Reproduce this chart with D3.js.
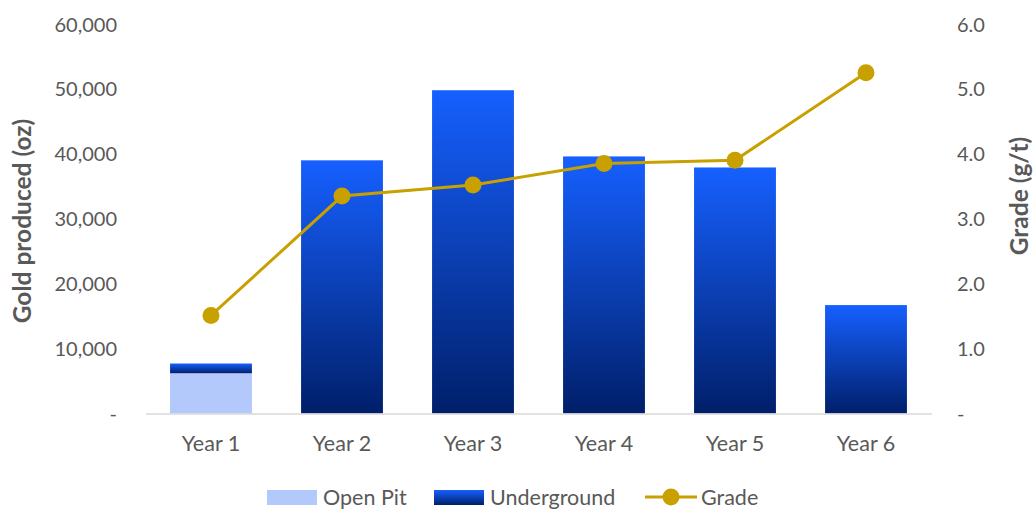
<!DOCTYPE html>
<html>
<head>
<meta charset="utf-8">
<script src="https://cdn.jsdelivr.net/npm/d3@7"></script>
<style>
  body { margin: 0; background: #fff; }
  text { font-family: Lato, sans-serif; fill: #595959; }
</style>
</head>
<body>
<script>
// chart data
const years = ['Year 1', 'Year 2', 'Year 3', 'Year 4', 'Year 5', 'Year 6'];
const openPit = [6200, 0, 0, 0, 0, 0];
const underground = [1500, 39000, 49800, 39600, 37900, 16700];
const grade = [1.51, 3.35, 3.52, 3.85, 3.90, 5.25];
const leftTicks = [0, 10000, 20000, 30000, 40000, 50000, 60000];
const rightTicks = [0, 1, 2, 3, 4, 5, 6];

const width = 1034;
const height = 509;
const tickSize = 20;
const labelSize = 21.5;

const svg = d3.select('body')
  .append('svg')
  .attr('width', width)
  .attr('height', height);

// gradient for underground bars, drawn per bar
const grad = svg.append('defs')
  .append('linearGradient')
  .attr('id', 'ugGrad')
  .attr('x1', 0).attr('y1', 0)
  .attr('x2', 0).attr('y2', 1);
grad.append('stop').attr('offset', '0%').attr('stop-color', '#1660ff');
grad.append('stop').attr('offset', '100%').attr('stop-color', '#001f6a');

const x = d3.scaleBand()
  .domain(years)
  .range([145.5, 931.5])
  .paddingInner(0.375)
  .paddingOuter(0.1875);

const yLeft = d3.scaleLinear().domain([0, 60000]).range([413.5, 24]);
const yRight = d3.scaleLinear().domain([0, 6]).range([413.5, 24]);

const fmtLeft = d => d === 0 ? '-' : d3.format(',')(d);
const fmtRight = d => d === 0 ? '-' : d3.format('.1f')(d);

const styleText = (sel, size) => sel
  .attr('font-size', size)
  .style('font-family', 'Lato, sans-serif')
  .attr('fill', '#595959');

// left axis
const leftAxis = svg.append('g')
  .attr('transform', 'translate(117,0)')
  .call(d3.axisLeft(yLeft).tickValues(leftTicks).tickFormat(fmtLeft).tickSize(0).tickPadding(0));
leftAxis.select('.domain').remove();
leftAxis.selectAll('text').attr('dy', '0.35em').call(styleText, tickSize);

// right axis
const rightAxis = svg.append('g')
  .attr('transform', 'translate(957,0)')
  .call(d3.axisRight(yRight).tickValues(rightTicks).tickFormat(fmtRight).tickSize(0).tickPadding(0));
rightAxis.select('.domain').remove();
rightAxis.selectAll('text').attr('dy', '0.35em').call(styleText, tickSize);

// bars
const bars = svg.append('g');
bars.selectAll('rect.op')
  .data(years)
  .join('rect')
  .attr('class', 'op')
  .attr('x', d => x(d))
  .attr('width', x.bandwidth())
  .attr('y', (d, i) => yLeft(openPit[i]))
  .attr('height', (d, i) => yLeft(0) - yLeft(openPit[i]))
  .attr('fill', '#b3c8fb');

bars.selectAll('rect.ug')
  .data(years)
  .join('rect')
  .attr('class', 'ug')
  .attr('x', d => x(d))
  .attr('width', x.bandwidth())
  .attr('y', (d, i) => yLeft(openPit[i] + underground[i]))
  .attr('height', (d, i) => yLeft(openPit[i]) - yLeft(openPit[i] + underground[i]))
  .attr('fill', 'url(#ugGrad)');

// category axis
const bottom = svg.append('g')
  .attr('transform', 'translate(0,413.5)')
  .call(d3.axisBottom(x).tickSize(0).tickPadding(22));
bottom.select('.domain').attr('stroke', '#d9d9d9').attr('stroke-width', 1.5);
bottom.selectAll('text').call(styleText, labelSize);

// grade line
const cx = d => x(d) + x.bandwidth() / 2;
const line = d3.line()
  .x(d => cx(d))
  .y((d, i) => yRight(grade[i]));

svg.append('path')
  .datum(years)
  .attr('d', line)
  .attr('fill', 'none')
  .attr('stroke', '#c8a000')
  .attr('stroke-width', 3);

svg.append('g').selectAll('circle')
  .data(years)
  .join('circle')
  .attr('cx', d => cx(d))
  .attr('cy', (d, i) => yRight(grade[i]))
  .attr('r', 8.5)
  .attr('fill', '#c8a000');

// axis titles
svg.append('text')
  .attr('transform', 'translate(31,221) rotate(-90)')
  .attr('text-anchor', 'middle')
  .attr('font-size', 24.5)
  .attr('font-weight', 'bold')
  .text('Gold produced (oz)');

svg.append('text')
  .attr('transform', 'translate(1028,196) rotate(-90)')
  .attr('text-anchor', 'middle')
  .attr('font-size', 24.5)
  .attr('font-weight', 'bold')
  .text('Grade (g/t)');

// legend
const legend = svg.append('g').attr('transform', 'translate(0,497)');
legend.append('rect').attr('x', 267).attr('y', -7).attr('width', 50).attr('height', 15).attr('fill', '#b3c8fb');
legend.append('text').attr('x', 323).attr('y', 0).attr('dy', '0.35em').attr('font-size', labelSize).text('Open Pit');
legend.append('rect').attr('x', 434).attr('y', -7).attr('width', 50).attr('height', 15).attr('fill', 'url(#ugGrad)');
legend.append('text').attr('x', 490).attr('y', 0).attr('dy', '0.35em').attr('font-size', labelSize).text('Underground');
legend.append('line').attr('x1', 645).attr('x2', 697).attr('y1', 0).attr('y2', 0).attr('stroke', '#c8a000').attr('stroke-width', 3);
legend.append('circle').attr('cx', 671).attr('cy', 0).attr('r', 8.5).attr('fill', '#c8a000');
legend.append('text').attr('x', 701).attr('y', 0).attr('dy', '0.35em').attr('font-size', labelSize).text('Grade');
</script>
</body>
</html>
